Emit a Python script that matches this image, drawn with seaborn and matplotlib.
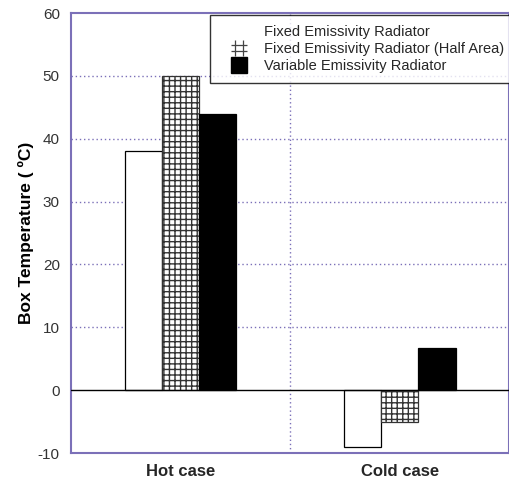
import matplotlib.pyplot as plt
import seaborn as sns
import pandas as pd
from matplotlib.lines import Line2D
from matplotlib.path import Path

cases = ['Hot case', 'Cold case']
radiators = ['Fixed Emissivity Radiator',
             'Fixed Emissivity Radiator (Half Area)',
             'Variable Emissivity Radiator']
fixed = [38, -9]
fixed_half = [50, -5]
variable = [44, 6.7]

df = pd.DataFrame({
    'case': cases * 3,
    'radiator': [radiators[0]] * 2 + [radiators[1]] * 2 + [radiators[2]] * 2,
    'temp': fixed + fixed_half + variable,
})

sns.set_style('white')
plt.rcParams['font.family'] = ['Liberation Sans', 'DejaVu Sans']
plt.rcParams['axes.unicode_minus'] = False
plt.rcParams['hatch.linewidth'] = 1.0
plt.rcParams['hatch.color'] = '#333333'

frame = '#7b70b8'
fig = plt.figure(figsize=(5.1, 4.83), dpi=100)
ax = fig.add_axes([0.139, 0.062, 0.86, 0.911])
ax.set_facecolor('white')

sns.barplot(data=df, x='case', y='temp', hue='radiator', hue_order=radiators,
            order=cases, palette=['white', 'white', 'black'], width=0.51,
            edgecolor='black', linewidth=0.9, saturation=1, ax=ax, legend=False)
for bar in ax.containers[1]:
    bar.set_hatch('+++')
    bar.set_edgecolor('#333333')

ax.set_xlim(-0.5, 1.5)
ax.set_ylim(-10, 60)
ax.set_yticks(range(-10, 61, 10))
for y in range(10, 60, 10):
    ax.axhline(y, color=frame, lw=1, ls=(0, (1, 2)), zorder=0)
ax.axvline(0.5, color=frame, lw=1, ls=(0, (1, 2)), zorder=0)
ax.axhline(0, color='black', lw=1, zorder=3)

for s in ax.spines.values():
    s.set_color(frame)
    s.set_linewidth(1.5)

ax.tick_params(axis='y', length=0, labelsize=11, labelcolor='#333333', pad=8)
ax.tick_params(axis='x', length=0, labelsize=12, pad=8)
for lbl in ax.get_xticklabels():
    lbl.set_fontweight('bold')
ax.set_xlabel('')
ax.set_ylabel('Box Temperature ( \u00baC)', fontsize=12.5, labelpad=3)
ax.yaxis.label.set_fontweight('bold')
ax.yaxis.label.set_color('black')

# small "#" glyph for the hatched entry
sharp = Path([(-0.5, -1), (-0.5, 1), (0.5, -1), (0.5, 1),
              (-1, -0.4), (1, -0.4), (-1, 0.4), (1, 0.4)],
             [Path.MOVETO, Path.LINETO] * 4)

handles = [Line2D([], [], ls='none', marker='s', ms=11, mfc='white', mec='white'),
           Line2D([], [], ls='none', marker=sharp, ms=11, color='#444444', mew=0.9),
           Line2D([], [], ls='none', marker='s', ms=11, mfc='black', mec='black')]
leg = ax.legend(handles, radiators, loc='upper right', bbox_to_anchor=(1.012, 0.996),
                fontsize=10.5, frameon=True, fancybox=False, edgecolor='black',
                borderaxespad=0, handlelength=2.5,
                handletextpad=0.5, labelspacing=0.2, borderpad=0.7)
leg.get_frame().set_linewidth(1.0)
leg.set_zorder(5)

plt.savefig('out.png', dpi=100)
